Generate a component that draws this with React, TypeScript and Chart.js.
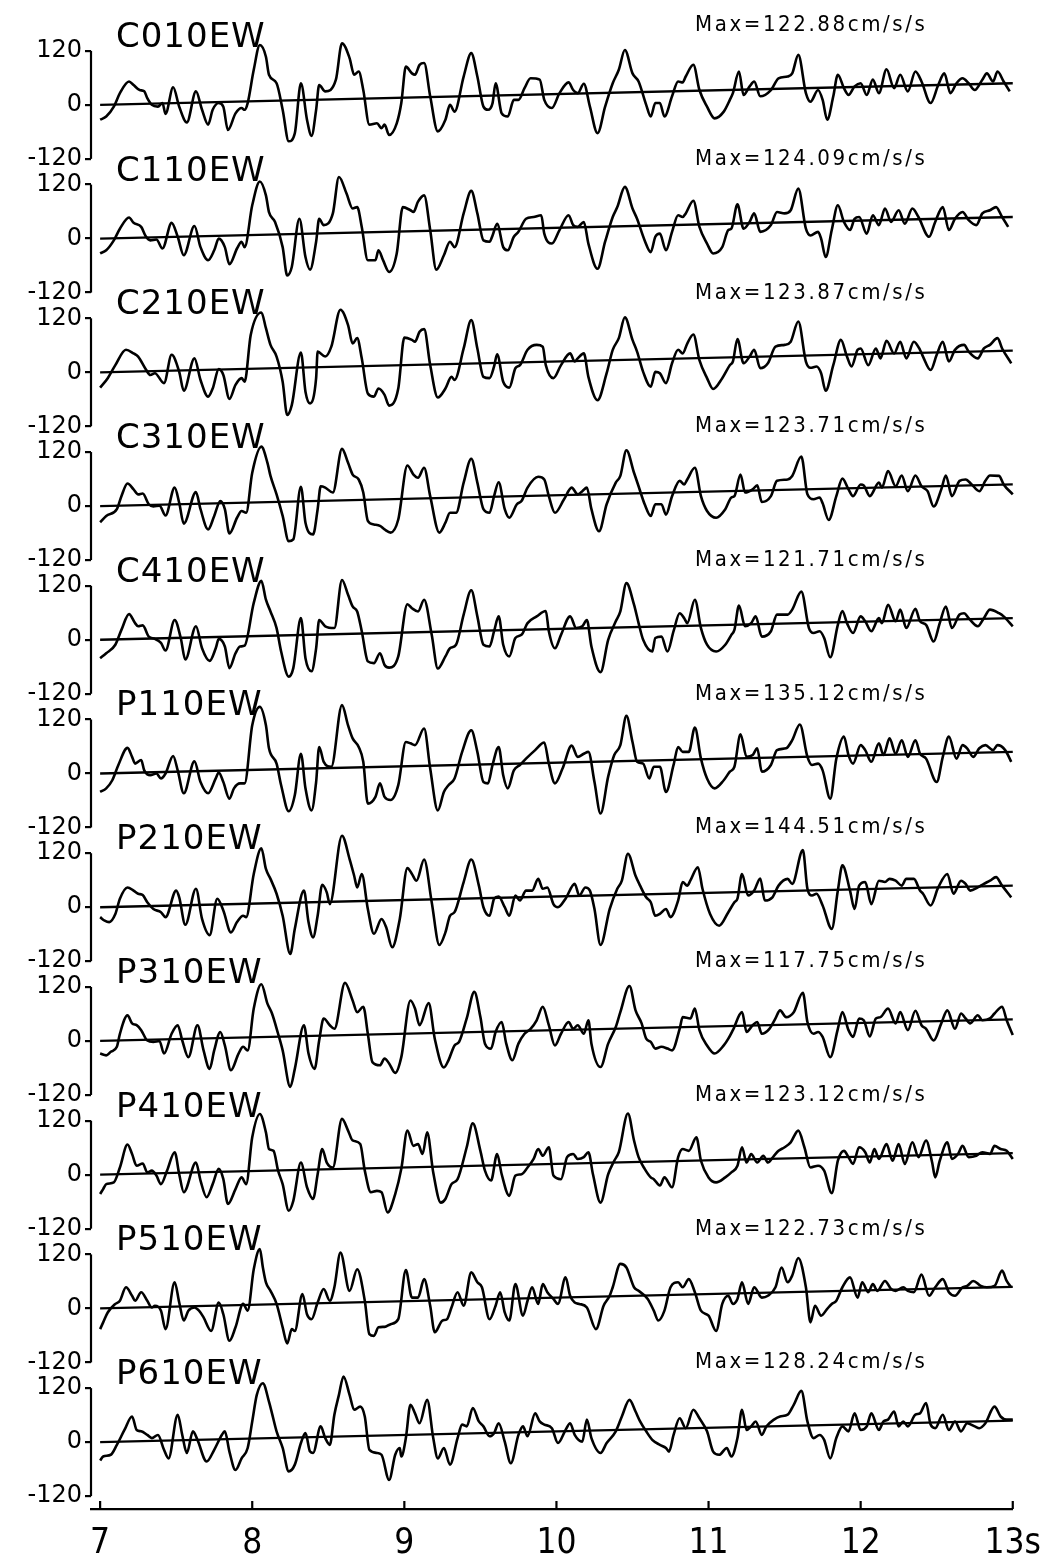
import { useEffect, useRef } from 'react';
import { Chart, registerables } from 'chart.js';

Chart.register(...registerables);

type Pt = [number, number];

const STATIONS = ['C010EW', 'C110EW', 'C210EW', 'C310EW', 'C410EW', 'P110EW', 'P210EW', 'P310EW', 'P410EW', 'P510EW', 'P610EW'];
const PEAKS = ['Max=122.88cm/s/s', 'Max=124.09cm/s/s', 'Max=123.87cm/s/s', 'Max=123.71cm/s/s', 'Max=121.71cm/s/s', 'Max=135.12cm/s/s', 'Max=144.51cm/s/s', 'Max=117.75cm/s/s', 'Max=123.12cm/s/s', 'Max=122.73cm/s/s', 'Max=128.24cm/s/s'];
const X_TICKS = [7, 8, 9, 10, 11, 12, 13];
const Y_TICKS = [-120, 0, 120];
const BASELINE: Pt[] = [[7.0, 0], [13.0, 48]];

const C010EW: Pt[] = [[7.00,-33],[7.04,-26],[7.09,-4],[7.13,26],[7.19,52],[7.22,44],[7.26,33],[7.29,30],[7.31,15],[7.34,0],[7.38,-4],[7.41,4],[7.43,-20],[7.48,39],[7.52,-4],[7.57,-39],[7.63,30],[7.67,-11],[7.71,-44],[7.74,-11],[7.78,4],[7.81,-4],[7.84,-56],[7.89,-19],[7.93,-7],[7.95,-11],[7.97,4],[8.01,78],[8.05,133],[8.09,107],[8.11,67],[8.16,48],[8.20,-11],[8.24,-81],[8.28,-63],[8.32,48],[8.36,-33],[8.39,-69],[8.42,-11],[8.44,44],[8.48,30],[8.55,56],[8.59,137],[8.64,104],[8.67,67],[8.70,74],[8.73,33],[8.77,-44],[8.82,-41],[8.85,-52],[8.87,-44],[8.90,-67],[8.95,-41],[8.98,4],[9.01,85],[9.05,70],[9.07,67],[9.10,89],[9.13,93],[9.17,19],[9.22,-59],[9.27,-33],[9.30,0],[9.33,-15],[9.39,63],[9.44,115],[9.48,63],[9.52,-4],[9.55,-11],[9.58,4],[9.60,48],[9.64,-19],[9.68,-26],[9.72,11],[9.75,11],[9.79,37],[9.83,59],[9.89,56],[9.92,11],[9.97,-7],[10.02,26],[10.08,50],[10.11,33],[10.14,26],[10.18,47],[10.22,-4],[10.27,-63],[10.32,-4],[10.37,48],[10.41,78],[10.45,122],[10.50,70],[10.54,52],[10.59,0],[10.62,-26],[10.65,4],[10.68,4],[10.71,-26],[10.76,19],[10.80,52],[10.83,50],[10.85,63],[10.90,89],[10.94,33],[10.99,-4],[11.04,-30],[11.10,-15],[11.14,11],[11.16,26],[11.20,74],[11.23,22],[11.27,41],[11.30,52],[11.34,19],[11.41,33],[11.46,59],[11.52,63],[11.55,70],[11.59,111],[11.64,26],[11.67,7],[11.72,33],[11.75,11],[11.78,-33],[11.82,19],[11.85,67],[11.89,37],[11.92,22],[11.96,41],[12.00,48],[12.04,22],[12.08,56],[12.12,26],[12.17,79],[12.22,37],[12.26,67],[12.31,30],[12.36,74],[12.40,52],[12.46,4],[12.51,44],[12.55,70],[12.59,26],[12.63,48],[12.67,59],[12.71,48],[12.75,33],[12.80,56],[12.83,70],[12.87,52],[12.90,74],[12.94,52],[12.98,30]];

const C110EW: Pt[] = [[7.00,-33],[7.04,-26],[7.09,-4],[7.13,22],[7.19,47],[7.22,35],[7.27,26],[7.30,5],[7.33,-4],[7.37,-2],[7.41,-22],[7.47,35],[7.51,4],[7.55,-37],[7.62,28],[7.66,-19],[7.71,-48],[7.75,-26],[7.78,0],[7.82,-19],[7.85,-57],[7.90,-22],[7.93,-7],[7.95,-19],[8.00,74],[8.05,127],[8.09,96],[8.11,59],[8.15,37],[8.20,-19],[8.23,-82],[8.26,-63],[8.31,44],[8.35,-41],[8.38,-69],[8.42,-7],[8.44,44],[8.47,30],[8.53,56],[8.57,137],[8.62,100],[8.66,67],[8.69,70],[8.72,26],[8.76,-48],[8.81,-48],[8.83,-26],[8.86,-48],[8.90,-74],[8.95,-33],[8.99,70],[9.04,63],[9.06,59],[9.09,82],[9.13,96],[9.17,19],[9.21,-69],[9.26,-37],[9.30,-7],[9.33,-19],[9.39,56],[9.44,106],[9.48,56],[9.52,-4],[9.56,-7],[9.58,7],[9.61,33],[9.65,-19],[9.68,-26],[9.72,4],[9.75,15],[9.80,44],[9.85,48],[9.90,52],[9.92,11],[9.97,-11],[10.02,19],[10.08,52],[10.11,30],[10.14,26],[10.18,37],[10.21,-11],[10.27,-67],[10.32,-7],[10.37,48],[10.40,70],[10.45,115],[10.50,67],[10.53,44],[10.58,-4],[10.62,-30],[10.65,4],[10.68,11],[10.72,-26],[10.76,15],[10.80,52],[10.83,48],[10.85,56],[10.90,84],[10.94,26],[10.99,-11],[11.03,-33],[11.09,-19],[11.13,19],[11.15,22],[11.19,76],[11.23,22],[11.27,37],[11.30,56],[11.34,15],[11.41,30],[11.45,59],[11.50,56],[11.54,63],[11.59,111],[11.64,22],[11.67,7],[11.72,15],[11.74,0],[11.77,-41],[11.81,19],[11.85,74],[11.89,37],[11.93,19],[11.96,44],[11.99,48],[12.04,11],[12.08,52],[12.12,30],[12.16,67],[12.20,37],[12.25,63],[12.29,33],[12.34,67],[12.38,48],[12.45,4],[12.49,37],[12.54,70],[12.58,19],[12.62,44],[12.67,59],[12.71,41],[12.76,30],[12.80,56],[12.85,63],[12.89,70],[12.93,48],[12.97,26]];

const C210EW: Pt[] = [[7.00,-34],[7.05,-13],[7.10,16],[7.17,50],[7.22,42],[7.25,35],[7.30,7],[7.33,-6],[7.36,-2],[7.42,-24],[7.47,39],[7.52,1],[7.55,-41],[7.62,31],[7.66,-17],[7.71,-54],[7.74,-36],[7.78,7],[7.81,-6],[7.85,-59],[7.89,-28],[7.93,-13],[7.95,-21],[7.99,83],[8.06,133],[8.09,98],[8.12,61],[8.16,35],[8.20,-21],[8.23,-95],[8.26,-73],[8.32,44],[8.35,-43],[8.38,-69],[8.42,-13],[8.43,46],[8.48,35],[8.52,57],[8.58,139],[8.63,105],[8.66,64],[8.69,76],[8.72,31],[8.76,-47],[8.80,-54],[8.83,-36],[8.87,-50],[8.90,-74],[8.96,-36],[9.00,77],[9.05,72],[9.07,68],[9.10,90],[9.13,96],[9.17,16],[9.22,-56],[9.27,-36],[9.31,-10],[9.33,-17],[9.39,53],[9.44,116],[9.48,53],[9.52,-10],[9.56,-13],[9.59,13],[9.61,40],[9.65,-21],[9.69,-34],[9.73,9],[9.76,16],[9.81,50],[9.87,61],[9.91,57],[9.93,16],[9.98,-13],[10.03,16],[10.09,42],[10.12,24],[10.14,31],[10.18,42],[10.21,-10],[10.27,-62],[10.33,-2],[10.37,50],[10.41,76],[10.45,122],[10.50,72],[10.53,46],[10.57,1],[10.62,-32],[10.65,1],[10.68,-2],[10.72,-24],[10.76,20],[10.80,50],[10.83,42],[10.86,64],[10.90,84],[10.94,27],[10.99,-13],[11.03,-37],[11.09,-13],[11.14,16],[11.16,24],[11.19,74],[11.23,20],[11.27,35],[11.30,50],[11.34,9],[11.39,20],[11.44,57],[11.50,61],[11.54,68],[11.59,113],[11.64,24],[11.67,10],[11.71,13],[11.74,-2],[11.77,-41],[11.82,16],[11.87,72],[11.91,35],[11.94,13],[11.98,50],[12.00,53],[12.05,16],[12.10,53],[12.13,31],[12.17,70],[12.22,42],[12.26,68],[12.30,31],[12.35,68],[12.39,50],[12.41,35],[12.46,5],[12.50,39],[12.54,68],[12.58,24],[12.62,50],[12.68,61],[12.71,46],[12.77,31],[12.81,53],[12.85,61],[12.90,76],[12.93,53],[12.99,20]];

const C310EW: Pt[] = [[7.00,-36],[7.04,-22],[7.11,-7],[7.14,22],[7.18,50],[7.22,37],[7.25,26],[7.28,28],[7.32,4],[7.35,-1],[7.39,1],[7.43,-21],[7.49,41],[7.52,7],[7.55,-39],[7.63,31],[7.66,-7],[7.71,-52],[7.75,-22],[7.79,11],[7.82,-7],[7.85,-61],[7.90,-26],[7.93,-11],[7.96,-15],[8.00,74],[8.06,132],[8.10,96],[8.12,67],[8.16,26],[8.20,-22],[8.24,-78],[8.27,-74],[8.32,43],[8.35,-37],[8.40,-63],[8.43,-7],[8.45,44],[8.48,41],[8.53,30],[8.59,127],[8.63,96],[8.66,70],[8.70,59],[8.73,30],[8.76,-33],[8.80,-41],[8.84,-44],[8.87,-52],[8.91,-59],[8.96,-30],[9.02,90],[9.06,70],[9.09,63],[9.13,85],[9.17,22],[9.23,-59],[9.27,-37],[9.30,-15],[9.34,-15],[9.39,52],[9.44,105],[9.48,52],[9.52,-7],[9.56,-15],[9.59,22],[9.62,53],[9.66,-7],[9.69,-26],[9.74,4],[9.77,11],[9.81,41],[9.88,65],[9.92,59],[9.95,22],[9.99,-15],[10.05,15],[10.10,41],[10.14,26],[10.17,33],[10.20,41],[10.23,-7],[10.28,-56],[10.33,4],[10.39,52],[10.42,67],[10.46,124],[10.51,74],[10.54,44],[10.58,4],[10.62,-22],[10.65,4],[10.69,4],[10.72,-19],[10.76,22],[10.81,56],[10.84,48],[10.86,59],[10.91,85],[10.95,22],[10.99,-11],[11.05,-26],[11.11,-7],[11.15,19],[11.17,22],[11.21,70],[11.24,30],[11.29,37],[11.32,46],[11.35,9],[11.41,22],[11.45,56],[11.52,59],[11.55,67],[11.61,110],[11.65,26],[11.69,15],[11.73,19],[11.75,6],[11.79,-31],[11.84,22],[11.88,61],[11.92,37],[11.95,22],[12.00,48],[12.02,46],[12.06,22],[12.12,52],[12.14,41],[12.18,78],[12.23,44],[12.27,68],[12.31,33],[12.36,68],[12.40,44],[12.44,33],[12.48,-1],[12.53,37],[12.56,68],[12.60,22],[12.65,56],[12.69,59],[12.73,48],[12.78,33],[12.82,56],[12.85,68],[12.91,67],[12.94,48],[13.00,26]];

const C410EW: Pt[] = [[7.00,-41],[7.04,-30],[7.10,-11],[7.14,22],[7.19,57],[7.23,37],[7.25,30],[7.28,32],[7.32,7],[7.36,2],[7.40,-7],[7.43,-24],[7.49,44],[7.53,4],[7.56,-44],[7.63,30],[7.67,-19],[7.72,-47],[7.76,-19],[7.78,2],[7.82,-15],[7.85,-63],[7.89,-30],[7.92,-15],[7.95,-13],[8.01,82],[8.06,131],[8.09,89],[8.12,63],[8.16,26],[8.19,-26],[8.24,-82],[8.27,-63],[8.32,48],[8.35,-41],[8.39,-70],[8.42,-19],[8.44,44],[8.48,30],[8.54,26],[8.59,133],[8.63,100],[8.66,74],[8.69,63],[8.72,19],[8.76,-48],[8.80,-52],[8.84,-30],[8.87,-56],[8.90,-62],[8.96,-37],[9.02,79],[9.05,70],[9.09,63],[9.13,89],[9.18,11],[9.22,-64],[9.27,-37],[9.30,-19],[9.34,-11],[9.39,56],[9.44,110],[9.48,52],[9.52,-11],[9.56,-15],[9.59,19],[9.62,52],[9.65,-11],[9.69,-37],[9.73,4],[9.77,11],[9.81,37],[9.87,52],[9.93,64],[9.95,19],[9.99,-19],[10.03,11],[10.09,52],[10.13,26],[10.17,30],[10.20,44],[10.23,-15],[10.29,-72],[10.34,0],[10.39,41],[10.42,63],[10.46,126],[10.51,78],[10.54,37],[10.57,0],[10.63,-26],[10.65,4],[10.69,7],[10.73,-26],[10.77,19],[10.81,59],[10.84,48],[10.86,37],[10.91,89],[10.95,26],[10.99,-11],[11.05,-26],[11.11,-11],[11.15,11],[11.17,22],[11.20,76],[11.24,30],[11.28,37],[11.31,52],[11.35,7],[11.41,19],[11.45,56],[11.52,56],[11.55,67],[11.61,107],[11.66,26],[11.69,15],[11.73,19],[11.76,4],[11.80,-39],[11.85,33],[11.88,64],[11.91,37],[11.95,15],[12.00,52],[12.03,41],[12.07,19],[12.12,48],[12.14,37],[12.18,78],[12.23,41],[12.26,67],[12.30,26],[12.36,69],[12.39,41],[12.43,33],[12.48,-4],[12.52,37],[12.56,74],[12.60,26],[12.65,56],[12.68,59],[12.71,48],[12.77,30],[12.81,48],[12.85,67],[12.91,59],[12.94,52],[13.00,30]];

const P110EW: Pt[] = [[7.00,-41],[7.04,-33],[7.08,-15],[7.12,19],[7.18,57],[7.21,37],[7.23,22],[7.27,30],[7.29,7],[7.33,-4],[7.37,0],[7.40,-11],[7.43,0],[7.48,39],[7.51,7],[7.55,-44],[7.62,27],[7.66,-19],[7.71,-44],[7.76,-11],[7.78,2],[7.81,-19],[7.85,-56],[7.88,-33],[7.92,-22],[7.95,-22],[8.00,107],[8.05,148],[8.09,107],[8.11,56],[8.16,22],[8.19,-26],[8.24,-84],[8.28,-48],[8.32,44],[8.35,-33],[8.39,-82],[8.42,-19],[8.44,59],[8.47,26],[8.52,15],[8.59,152],[8.63,107],[8.66,78],[8.70,59],[8.73,26],[8.76,-67],[8.81,-52],[8.84,-22],[8.87,-52],[8.91,-59],[8.96,-26],[9.01,70],[9.04,67],[9.07,63],[9.13,100],[9.17,11],[9.22,-82],[9.26,-41],[9.29,-26],[9.33,-11],[9.38,48],[9.44,96],[9.48,48],[9.52,-19],[9.55,-22],[9.58,19],[9.62,59],[9.65,-4],[9.68,-33],[9.72,7],[9.76,19],[9.80,33],[9.86,52],[9.92,69],[9.95,22],[9.99,-22],[10.04,11],[10.10,62],[10.14,37],[10.18,44],[10.21,48],[10.25,-19],[10.29,-89],[10.34,-7],[10.38,41],[10.42,63],[10.46,128],[10.50,70],[10.53,26],[10.57,22],[10.61,-11],[10.64,15],[10.68,15],[10.72,-41],[10.77,19],[10.80,59],[10.83,48],[10.87,48],[10.91,102],[10.95,33],[10.99,-11],[11.04,-33],[11.10,-15],[11.14,4],[11.17,15],[11.21,87],[11.25,37],[11.29,41],[11.32,56],[11.35,4],[11.41,19],[11.45,52],[11.51,56],[11.55,74],[11.60,109],[11.65,37],[11.68,19],[11.72,22],[11.75,7],[11.80,-56],[11.84,33],[11.89,82],[11.92,41],[11.95,22],[12.00,63],[12.03,52],[12.07,26],[12.12,67],[12.15,41],[12.19,78],[12.23,44],[12.27,74],[12.31,37],[12.36,74],[12.39,44],[12.43,33],[12.50,-19],[12.54,37],[12.58,82],[12.63,33],[12.67,63],[12.70,56],[12.74,37],[12.78,56],[12.82,63],[12.87,52],[12.90,63],[12.95,52],[12.99,26]];

const P210EW: Pt[] = [[7.00,-22],[7.03,-30],[7.06,-33],[7.10,-15],[7.13,19],[7.18,44],[7.22,37],[7.25,30],[7.28,27],[7.31,11],[7.35,-4],[7.40,-11],[7.43,-22],[7.50,37],[7.52,22],[7.56,-39],[7.63,41],[7.67,-26],[7.72,-62],[7.77,19],[7.81,-7],[7.86,-56],[7.90,-33],[7.94,-19],[7.96,-22],[8.01,74],[8.06,131],[8.09,85],[8.12,63],[8.16,30],[8.20,-19],[8.25,-104],[8.28,-48],[8.34,37],[8.37,-33],[8.40,-67],[8.43,-19],[8.46,50],[8.49,33],[8.51,7],[8.59,159],[8.64,107],[8.67,70],[8.69,44],[8.72,74],[8.76,-4],[8.80,-59],[8.85,-26],[8.88,-44],[8.92,-89],[8.97,-26],[9.02,87],[9.05,74],[9.08,59],[9.13,106],[9.18,11],[9.23,-84],[9.27,-56],[9.30,-19],[9.33,-11],[9.39,56],[9.44,106],[9.49,48],[9.52,0],[9.56,-19],[9.59,19],[9.62,24],[9.66,0],[9.69,-19],[9.73,26],[9.76,15],[9.80,37],[9.84,37],[9.88,63],[9.91,41],[9.94,44],[9.98,7],[10.01,0],[10.06,19],[10.12,52],[10.15,26],[10.19,44],[10.22,37],[10.25,-4],[10.29,-84],[10.35,-4],[10.40,41],[10.43,59],[10.47,119],[10.52,70],[10.55,48],[10.59,22],[10.62,11],[10.65,-19],[10.68,-15],[10.72,-4],[10.75,-22],[10.80,15],[10.83,56],[10.86,48],[10.88,59],[10.93,89],[10.96,41],[11.01,-15],[11.07,-41],[11.13,-11],[11.17,11],[11.19,19],[11.22,74],[11.26,26],[11.30,37],[11.34,64],[11.37,15],[11.42,22],[11.46,48],[11.52,63],[11.55,52],[11.62,127],[11.65,41],[11.68,26],[11.71,30],[11.75,4],[11.81,-48],[11.85,37],[11.88,93],[11.93,37],[11.96,-4],[11.99,48],[12.03,56],[12.07,7],[12.12,59],[12.16,56],[12.19,63],[12.23,59],[12.27,48],[12.30,63],[12.35,63],[12.39,37],[12.41,30],[12.46,4],[12.51,44],[12.57,74],[12.61,30],[12.66,59],[12.69,52],[12.72,37],[12.77,44],[12.81,52],[12.85,59],[12.89,67],[12.93,48],[12.99,22]];

const P310EW: Pt[] = [[7.00,-28],[7.04,-32],[7.07,-24],[7.11,-13],[7.13,16],[7.18,57],[7.21,39],[7.24,35],[7.27,24],[7.31,1],[7.35,-2],[7.39,0],[7.42,-28],[7.47,16],[7.51,35],[7.54,1],[7.58,-36],[7.64,35],[7.68,-21],[7.72,-62],[7.75,-21],[7.79,20],[7.82,-10],[7.86,-65],[7.91,-28],[7.94,-13],[7.97,-21],[8.01,72],[8.06,126],[8.10,83],[8.13,61],[8.17,16],[8.20,-21],[8.25,-102],[8.28,-62],[8.34,35],[8.37,-28],[8.41,-62],[8.44,1],[8.47,50],[8.51,35],[8.54,27],[8.61,129],[8.66,90],[8.69,64],[8.73,76],[8.76,16],[8.79,-47],[8.84,-54],[8.87,-39],[8.90,-50],[8.94,-71],[8.98,-36],[9.04,90],[9.07,72],[9.10,35],[9.16,84],[9.20,5],[9.26,-59],[9.29,-43],[9.33,-10],[9.36,-2],[9.41,50],[9.46,109],[9.50,53],[9.53,-6],[9.57,-17],[9.60,20],[9.64,42],[9.67,-6],[9.71,-43],[9.75,-6],[9.79,16],[9.83,27],[9.87,46],[9.91,76],[9.95,35],[9.99,-10],[10.03,16],[10.08,42],[10.11,27],[10.14,35],[10.18,16],[10.21,46],[10.23,-6],[10.29,-58],[10.34,-6],[10.39,31],[10.42,64],[10.48,122],[10.52,68],[10.56,39],[10.59,5],[10.62,-2],[10.65,-17],[10.69,-13],[10.73,-17],[10.76,-21],[10.81,27],[10.83,53],[10.88,50],[10.91,72],[10.94,24],[10.99,-10],[11.04,-28],[11.10,-10],[11.13,5],[11.16,24],[11.22,64],[11.25,20],[11.29,35],[11.32,42],[11.35,16],[11.40,27],[11.44,50],[11.47,68],[11.51,53],[11.56,64],[11.62,107],[11.65,42],[11.69,16],[11.72,20],[11.75,9],[11.80,-36],[11.85,27],[11.88,64],[11.92,24],[11.95,9],[11.99,50],[12.02,46],[12.06,10],[12.10,50],[12.13,53],[12.18,72],[12.23,39],[12.26,64],[12.31,24],[12.36,67],[12.40,35],[12.43,27],[12.48,1],[12.53,39],[12.57,68],[12.62,27],[12.66,61],[12.69,50],[12.72,39],[12.77,57],[12.80,46],[12.85,50],[12.88,61],[12.93,76],[12.96,46],[13.00,13]];

const P410EW: Pt[] = [[7.00,-43],[7.02,-32],[7.04,-21],[7.09,-17],[7.13,16],[7.18,67],[7.21,46],[7.24,20],[7.28,25],[7.31,5],[7.34,9],[7.37,-2],[7.40,-21],[7.44,9],[7.49,50],[7.52,1],[7.55,-39],[7.63,27],[7.66,-13],[7.70,-50],[7.74,-21],[7.78,13],[7.81,-10],[7.84,-65],[7.89,-32],[7.93,-6],[7.96,-21],[8.00,83],[8.05,135],[8.09,94],[8.11,57],[8.14,53],[8.17,9],[8.20,-21],[8.24,-80],[8.27,-58],[8.32,27],[8.36,-28],[8.40,-54],[8.43,1],[8.46,57],[8.49,27],[8.53,16],[8.59,124],[8.63,98],[8.66,76],[8.71,68],[8.74,9],[8.78,-39],[8.82,-36],[8.85,-39],[8.89,-84],[8.94,-43],[8.98,13],[9.02,98],[9.06,64],[9.09,68],[9.12,46],[9.15,94],[9.19,5],[9.24,-62],[9.27,-54],[9.31,-21],[9.35,-10],[9.41,61],[9.45,114],[9.50,53],[9.53,9],[9.57,-13],[9.61,46],[9.64,1],[9.69,-47],[9.73,-2],[9.77,1],[9.81,16],[9.85,35],[9.88,57],[9.91,42],[9.95,61],[9.98,-2],[10.03,-10],[10.07,39],[10.11,46],[10.14,35],[10.18,39],[10.21,50],[10.24,1],[10.29,-62],[10.34,1],[10.38,31],[10.41,50],[10.47,136],[10.51,76],[10.54,39],[10.58,13],[10.62,-6],[10.64,-10],[10.68,-24],[10.71,-6],[10.76,-28],[10.80,39],[10.83,57],[10.87,53],[10.92,83],[10.95,31],[11.00,-6],[11.05,-17],[11.11,-6],[11.15,5],[11.19,20],[11.22,61],[11.25,27],[11.28,46],[11.32,27],[11.36,42],[11.39,27],[11.43,42],[11.46,53],[11.50,61],[11.54,72],[11.59,98],[11.63,61],[11.67,16],[11.72,20],[11.76,9],[11.81,-41],[11.85,31],[11.89,53],[11.92,39],[11.95,24],[11.99,61],[12.03,50],[12.06,27],[12.09,57],[12.12,35],[12.17,68],[12.21,31],[12.25,68],[12.29,24],[12.34,72],[12.38,39],[12.43,76],[12.47,27],[12.49,-6],[12.52,31],[12.57,72],[12.60,35],[12.64,46],[12.67,64],[12.71,39],[12.76,42],[12.80,50],[12.85,46],[12.88,64],[12.92,57],[12.96,53],[13.00,35]];

const P510EW: Pt[] = [[7.00,-46],[7.02,-31],[7.05,-9],[7.10,10],[7.13,17],[7.17,47],[7.21,28],[7.23,17],[7.27,36],[7.31,17],[7.34,2],[7.36,6],[7.40,-5],[7.43,-46],[7.49,58],[7.52,13],[7.55,-27],[7.58,-5],[7.62,2],[7.65,-5],[7.68,-20],[7.73,-50],[7.78,13],[7.81,-13],[7.85,-72],[7.89,-42],[7.94,10],[7.97,-5],[8.01,87],[8.05,132],[8.07,91],[8.09,58],[8.12,39],[8.16,10],[8.20,-42],[8.23,-78],[8.26,-46],[8.28,-50],[8.33,32],[8.36,-13],[8.39,-24],[8.43,13],[8.47,43],[8.51,17],[8.54,47],[8.58,124],[8.64,39],[8.69,87],[8.74,17],[8.77,-57],[8.80,-61],[8.83,-42],[8.87,-41],[8.91,-35],[8.96,-24],[9.01,85],[9.05,24],[9.09,24],[9.13,65],[9.17,6],[9.20,-53],[9.25,-27],[9.28,-24],[9.31,2],[9.35,36],[9.39,6],[9.44,80],[9.48,58],[9.51,47],[9.56,-24],[9.60,6],[9.63,36],[9.66,-9],[9.69,-27],[9.73,54],[9.78,-16],[9.81,17],[9.84,47],[9.88,10],[9.91,54],[9.94,36],[9.98,21],[10.01,10],[10.06,69],[10.09,28],[10.12,13],[10.15,10],[10.20,2],[10.26,-46],[10.31,6],[10.35,28],[10.37,47],[10.42,99],[10.46,91],[10.51,47],[10.54,39],[10.60,21],[10.64,-5],[10.67,-27],[10.71,-5],[10.75,47],[10.80,58],[10.83,47],[10.87,65],[10.91,36],[10.95,-5],[11.00,-16],[11.05,-50],[11.09,10],[11.13,28],[11.16,10],[11.19,21],[11.22,58],[11.26,10],[11.30,47],[11.35,24],[11.39,28],[11.44,47],[11.48,91],[11.52,58],[11.55,73],[11.59,112],[11.64,47],[11.67,-31],[11.70,6],[11.74,-16],[11.78,-1],[11.81,10],[11.84,17],[11.88,47],[11.93,69],[11.98,24],[12.01,58],[12.05,36],[12.08,54],[12.11,39],[12.16,61],[12.20,43],[12.23,39],[12.28,47],[12.31,39],[12.35,36],[12.40,75],[12.45,28],[12.49,47],[12.54,65],[12.58,36],[12.62,28],[12.67,47],[12.70,50],[12.74,61],[12.79,50],[12.83,47],[12.88,50],[12.93,84],[12.96,61],[12.99,47]];

const P610EW: Pt[] = [[7.00,-41],[7.02,-32],[7.07,-28],[7.11,-6],[7.16,27],[7.21,57],[7.24,27],[7.27,24],[7.31,16],[7.34,9],[7.38,16],[7.42,-17],[7.45,-36],[7.51,61],[7.54,16],[7.57,-24],[7.61,24],[7.64,5],[7.70,-43],[7.75,-17],[7.80,16],[7.82,24],[7.85,-21],[7.89,-62],[7.93,-36],[7.97,-13],[8.00,46],[8.03,105],[8.07,131],[8.11,90],[8.13,64],[8.16,24],[8.20,-13],[8.24,-65],[8.28,-50],[8.32,-2],[8.35,20],[8.38,-21],[8.40,-24],[8.45,35],[8.48,9],[8.51,-6],[8.54,61],[8.57,105],[8.60,146],[8.64,105],[8.67,72],[8.71,79],[8.74,57],[8.77,-17],[8.82,-24],[8.85,-28],[8.90,-84],[8.94,-28],[8.97,-13],[8.98,-32],[9.01,9],[9.04,83],[9.07,64],[9.10,42],[9.15,94],[9.19,9],[9.22,-36],[9.26,-13],[9.30,-50],[9.35,9],[9.38,39],[9.41,35],[9.45,76],[9.49,46],[9.52,35],[9.56,13],[9.59,20],[9.62,42],[9.66,1],[9.70,-47],[9.75,16],[9.78,35],[9.81,13],[9.86,64],[9.89,46],[9.92,39],[9.97,31],[10.01,-2],[10.06,27],[10.09,42],[10.12,16],[10.17,1],[10.20,50],[10.23,9],[10.29,-24],[10.33,-2],[10.39,24],[10.43,57],[10.48,94],[10.52,68],[10.55,46],[10.59,24],[10.63,5],[10.68,-6],[10.72,-13],[10.74,-21],[10.77,16],[10.81,53],[10.85,31],[10.90,72],[10.94,53],[10.99,24],[11.03,-21],[11.07,-28],[11.12,-13],[11.15,-32],[11.19,9],[11.22,72],[11.25,27],[11.28,35],[11.31,46],[11.35,16],[11.38,35],[11.43,50],[11.47,57],[11.52,61],[11.56,83],[11.61,114],[11.65,46],[11.69,9],[11.73,16],[11.76,5],[11.80,-36],[11.84,9],[11.88,35],[11.92,24],[11.96,64],[12.00,27],[12.04,35],[12.07,64],[12.12,27],[12.15,46],[12.18,50],[12.22,68],[12.25,35],[12.28,46],[12.31,35],[12.36,61],[12.39,64],[12.43,87],[12.46,39],[12.49,31],[12.54,61],[12.58,27],[12.62,46],[12.66,24],[12.70,42],[12.75,35],[12.78,31],[12.82,42],[12.88,79],[12.92,57],[12.96,50],[13.00,50]];

const TRACES: Pt[][] = [C010EW, C110EW, C210EW, C310EW, C410EW, P110EW, P210EW, P310EW, P410EW, P510EW, P610EW];

const Y_HALF = 148.6;
const TEXT_FONT = '"DejaVu Sans", "Liberation Sans", sans-serif';
const COND_FONT = '"DejaVu Sans Condensed", "DejaVu Sans", sans-serif';

const toXY = (pts: Pt[]) => pts.map(([x, y]) => ({ x, y }));

const decorPlugin = {
  id: 'seisDecor',
  afterDraw(chart: any) {
    const ctx = chart.ctx as CanvasRenderingContext2D;
    const area = chart.chartArea;
    const xs = chart.scales.x;
    ctx.save();
    ctx.strokeStyle = '#000';
    ctx.fillStyle = '#000';
    ctx.lineWidth = 2.2;
    STATIONS.forEach((name, i) => {
      const ys = chart.scales['y' + i];
      ctx.beginPath();
      ctx.moveTo(area.left, ys.getPixelForValue(120));
      ctx.lineTo(area.left, ys.getPixelForValue(-120));
      ctx.stroke();
      ctx.textAlign = 'left';
      ctx.textBaseline = 'alphabetic';
      ctx.font = '34px ' + TEXT_FONT;
      (ctx as any).letterSpacing = '1px';
      ctx.fillText(name, area.left + 25, ys.getPixelForValue(129));
      ctx.font = '22px ' + COND_FONT;
      (ctx as any).letterSpacing = '2.6px';
      ctx.fillText(PEAKS[i], area.left + 604, ys.getPixelForValue(164));
      (ctx as any).letterSpacing = '0px';
    });
    X_TICKS.forEach((t) => {
      const px = xs.getPixelForValue(t);
      ctx.beginPath();
      ctx.moveTo(px, area.bottom);
      ctx.lineTo(px, area.bottom - 8);
      ctx.stroke();
    });
    ctx.restore();
  },
};

export default function App() {
  const ref = useRef<HTMLCanvasElement | null>(null);

  useEffect(() => {
    if (!ref.current) return;
    const datasets: any[] = [];
    TRACES.forEach((trace, i) => {
      datasets.push({
        data: toXY(trace),
        yAxisID: 'y' + i,
        xAxisID: 'x',
        borderColor: '#000',
        borderWidth: 2.6,
        pointRadius: 0,
        cubicInterpolationMode: 'monotone',
        fill: false,
        clip: false,
      });
      datasets.push({
        data: toXY(BASELINE),
        yAxisID: 'y' + i,
        xAxisID: 'x',
        borderColor: '#000',
        borderWidth: 2.3,
        pointRadius: 0,
        fill: false,
        clip: false,
      });
    });

    const scales: any = {
      x: {
        type: 'linear',
        position: 'bottom',
        min: 6.94,
        max: 13,
        afterBuildTicks: (s: any) => {
          s.ticks = X_TICKS.map((v) => ({ value: v }));
        },
        afterFit: (s: any) => {
          s.height = 53;
        },
        grid: { display: false, drawTicks: false, tickLength: 0 },
        border: { display: true, color: '#000', width: 2.2 },
        ticks: {
          color: '#000',
          padding: 14,
          autoSkip: false,
          maxRotation: 0,
          font: { family: '"Liberation Sans Narrow", ' + COND_FONT, size: 35 },
          callback: (v: any) => (v === 13 ? '13s' : String(v)),
        },
      },
    };
    for (let i = STATIONS.length - 1; i >= 0; i--) {
      scales['y' + i] = {
        type: 'linear',
        axis: 'y',
        position: 'left',
        stack: 'panels',
        stackWeight: 1,
        min: -Y_HALF,
        max: Y_HALF,
        afterBuildTicks: (s: any) => {
          s.ticks = Y_TICKS.map((v) => ({ value: v }));
        },
        afterFit: (s: any) => {
          s.width = 91;
        },
        grid: { display: true, drawOnChartArea: false, drawTicks: true, tickLength: 6, color: '#000', lineWidth: 2.2 },
        border: { display: false },
        ticks: {
          color: '#000',
          padding: 3,
          autoSkip: false,
          font: { family: TEXT_FONT, size: 24 },
          callback: (v: any) => String(v),
        },
      };
    }

    const chart = new Chart(ref.current, {
      type: 'line',
      data: { datasets },
      options: {
        responsive: false,
        animation: false,
        devicePixelRatio: 1,
        layout: { padding: { top: 38, right: 39, left: 0, bottom: 0 } },
        plugins: { legend: { display: false }, title: { display: false }, tooltip: { enabled: false } },
        scales,
      },
      plugins: [decorPlugin],
    } as any);
    return () => chart.destroy();
  }, []);

  return (
    <div style={{ position: 'fixed', left: 0, top: 0, width: 1055, height: 1562, background: '#fff' }}>
      <canvas ref={ref} width={1055} height={1562} style={{ display: 'block' }} />
    </div>
  );
}
